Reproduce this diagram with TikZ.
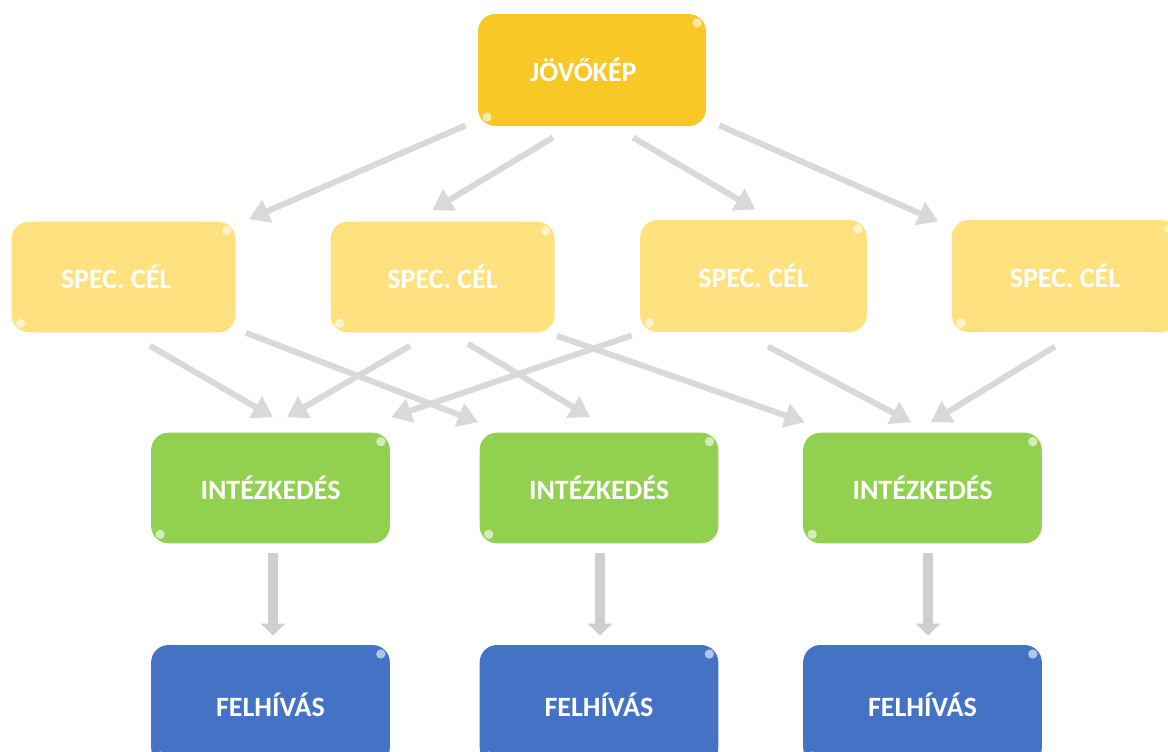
\documentclass[tikz,border=0pt]{standalone}
\usepackage{fontspec}
\setmainfont{Carlito}
\usetikzlibrary{arrows.meta,calc}

\definecolor{visionGold}{RGB}{248,201,38}
\definecolor{goalYellow}{RGB}{255,225,128}
\definecolor{actionGreen}{RGB}{146,208,80}
\definecolor{callBlue}{RGB}{68,114,196}
\definecolor{arrowGray}{RGB}{217,217,217}
\definecolor{stemGray}{RGB}{208,206,206}

\tikzset{every picture/.style={line width=0.75pt}}
\tikzset{
  box/.style={rectangle, rounded corners=13pt, inner sep=0pt, text=white,
    font=\bfseries\fontsize{21}{25}\selectfont,
    path picture={
      \fill[white, opacity=0.6] ($(path picture bounding box.north east)+(-9,-9)$) circle (3.5pt);
      \fill[white, opacity=0.6] ($(path picture bounding box.south west)+(9,9)$) circle (3.5pt);
    }},
  visionbox/.style={box, fill=visionGold, minimum width=171pt, minimum height=84pt},
  goalbox/.style={box, fill=goalYellow, minimum width=168pt, minimum height=83pt},
  actionbox/.style={box, fill=actionGreen, minimum width=179pt, minimum height=83pt},
  callbox/.style={box, fill=callBlue, minimum width=179pt, minimum height=90pt},
  link/.style={draw=arrowGray, line width=4.5pt, -{Triangle[length=15pt,width=18pt]}},
  stem/.style={draw=stemGray, line width=7.5pt, -{Triangle[length=9pt,width=18pt]}}
}

\begin{document}
\begin{tikzpicture}[x=0.75pt,y=0.75pt,yscale=-1,xscale=1]
\useasboundingbox (0,0) rectangle (1168,751);

% Text Node
\draw (592,70) node (jovo) [visionbox] {JÖVŐKÉP\kern13pt};
% Text Node
\draw (123.5,277) node (spec1) [goalbox] {SPEC. CÉL\kern11pt};
% Text Node
\draw (442.5,277) node (spec2) [goalbox] {SPEC. CÉL};
% Text Node
\draw (753.5,276) node (spec3) [goalbox, minimum width=170pt, minimum height=84pt] {SPEC. CÉL};
% Text Node
\draw (1065,276) node (spec4) [goalbox, minimum width=170pt, minimum height=84pt] {SPEC. CÉL};
% Text Node
\draw (270.5,488) node (int1) [actionbox] {INTÉZKEDÉS};
% Text Node
\draw (599,488) node (int2) [actionbox] {INTÉZKEDÉS};
% Text Node
\draw (922.5,488) node (int3) [actionbox] {INTÉZKEDÉS};
% Text Node
\draw (270.5,705) node (fel1) [callbox] {FELHÍVÁS};
% Text Node
\draw (599,705) node (fel2) [callbox] {FELHÍVÁS};
% Text Node
\draw (922.5,705) node (fel3) [callbox] {FELHÍVÁS};

%Straight Lines
\draw [link] ($(jovo.south west)+(-12,-1)$) -- ($(spec1.north east)+(13,-2)$);
\draw [link] ($(jovo.south)+(-39,11)$) -- ($(spec2.north)+(-10,-11)$);
\draw [link] ($(jovo.south)+(41,11)$) -- ($(spec3.north)+(2,-10)$);
\draw [link] ($(jovo.south east)+(13,-1)$) -- ($(spec4.north west)+(-13,2)$);
%Straight Lines
\draw [link] ($(spec1.south)+(26.5,13)$) -- ($(int1.north)+(2.5,-15)$);
\draw [link] ($(spec1.south east)+(10,0)$) -- ($(int2.north west)+(-1,-10)$);
\draw [link] ($(spec2.south)+(-32.5,13)$) -- ($(int1.north)+(16.5,-15)$);
\draw [link] ($(spec2.south)+(25.5,11)$) -- ($(int2.north)+(-9,-15)$);
\draw [link] ($(spec2.south east)+(2,3)$) -- ($(int3.north west)+(2,-10)$);
\draw [link] ($(spec3.south west)+(-8,3)$) -- ($(int1.north east)+(1,-15)$);
\draw [link] ($(spec3.south)+(14.5,14)$) -- ($(int3.north)+(-11.5,-10)$);
\draw [link] ($(spec4.south)+(-10,14)$) -- ($(int3.north)+(8.5,-10)$);
%Straight Lines
\draw [stem] ($(int1.south)+(2.5,9)$) -- ($(fel1.north)+(2.5,-9)$);
\draw [stem] ($(int2.south)+(1,9)$) -- ($(fel2.north)+(1,-9)$);
\draw [stem] ($(int3.south)+(5.5,9)$) -- ($(fel3.north)+(5.5,-9)$);

\end{tikzpicture}
\end{document}
